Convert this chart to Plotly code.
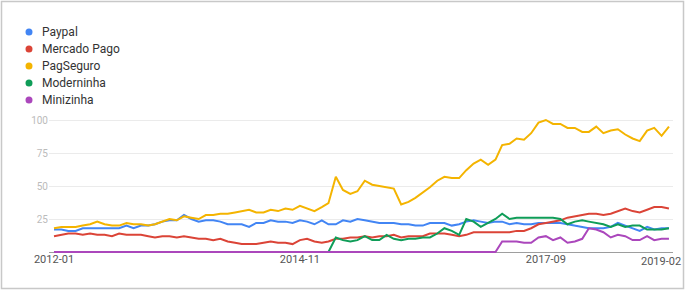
import pandas as pd
import plotly.graph_objects as go

months = pd.date_range("2012-01-01", "2019-02-01", freq="MS")

paypal = [17, 17, 16, 16, 18, 18, 18, 18, 18, 18, 20, 18, 20, 20, 21, 23, 24, 24, 28, 25,
          23, 24, 24, 23, 21, 21, 21, 19, 22, 22, 24, 23, 23, 22, 24, 23, 21, 24, 21, 21,
          24, 23, 25, 24, 23, 22, 22, 22, 21, 21, 20, 20, 22, 22, 22, 20, 21, 23, 24, 23,
          22, 23, 23, 21, 22, 21, 21, 22, 22, 22, 22, 21, 20, 19, 18, 18, 18, 19, 22, 20,
          18, 16, 19, 17, 18, 18]
mercado_pago = [12, 13, 14, 14, 13, 14, 13, 13, 12, 14, 13, 13, 13, 12, 11, 12, 12, 11, 12, 11,
                10, 10, 9, 10, 8, 7, 6, 6, 6, 7, 8, 7, 7, 6, 9, 10, 8, 7, 8, 10,
                10, 11, 11, 12, 11, 12, 12, 13, 11, 12, 12, 12, 14, 14, 14, 13, 12, 13, 15, 15,
                15, 15, 15, 15, 16, 16, 18, 21, 22, 23, 24, 26, 27, 28, 29, 29, 28, 29, 31, 33,
                31, 30, 32, 34, 34, 33]
pagseguro = [18, 19, 19, 19, 20, 21, 23, 21, 20, 20, 22, 21, 21, 20, 21, 23, 25, 24, 27, 26,
             25, 28, 28, 29, 29, 30, 31, 32, 30, 30, 32, 31, 33, 32, 35, 33, 31, 34, 37, 57,
             47, 44, 46, 54, 51, 50, 49, 48, 36, 38, 41, 45, 49, 54, 57, 56, 56, 62, 67, 70,
             66, 70, 81, 82, 86, 85, 90, 98, 100, 97, 97, 94, 94, 91, 91, 95, 90, 92, 93, 89,
             86, 84, 92, 94, 88, 95]
moderninha = [0] * 39 + [11, 9, 8, 9, 12, 9, 9, 13, 10, 9, 10, 10, 11, 11, 14, 18, 16, 13, 25,
              23, 19, 22, 25, 29, 25, 26, 26, 26, 26, 26, 26, 25, 21, 23, 24, 23, 22, 21, 19,
              21, 19, 20, 20, 17, 17, 17, 18]
minizinha = [0] * 62 + [8, 8, 8, 7, 7, 11, 12, 9, 11, 7, 8, 10, 18, 17, 15, 11, 13, 12, 9,
                        9, 12, 9, 10, 10]

names = ["Paypal", "Mercado Pago", "PagSeguro", "Moderninha", "Minizinha"]
series = [paypal, mercado_pago, pagseguro, moderninha, minizinha]
colors = ["#4285F4", "#DB4437", "#F4B400", "#0F9D58", "#AB47BC"]

tick_dates = ["2012-01-01", "2014-11-01", "2017-09-01"]
tick_text = ["2012-01", "2014-11", "2017-09"]
last_label = "2019-02"

W, H = 688, 291
L, R, T, B = 49, 15, 117, 36
PW, PH = W - L - R, H - T - B


def px2x(px):
    return (px - L) / PW


def py2y(py):
    return (H - B - py) / PH


fig = go.Figure()
for name, vals, col in zip(names, series, colors):
    fig.add_trace(go.Scatter(x=months, y=vals, mode="lines", name=name,
                             line=dict(color=col, width=2), showlegend=False,
                             hoverinfo="x+y+name"))

shapes = [dict(type="rect", xref="paper", yref="paper",
               x0=px2x(1.5), x1=px2x(683.5), y0=py2y(288.5), y1=py2y(1.5),
               line=dict(color="#c8c8c8", width=1.5), fillcolor="rgba(0,0,0,0)", layer="below")]
annotations = []
leg_y = [32, 49, 66, 83, 100]
for name, col, yy in zip(names, colors, leg_y):
    shapes.append(dict(type="circle", xref="paper", yref="paper",
                       x0=px2x(25.5), x1=px2x(32.5), y0=py2y(yy + 3.5), y1=py2y(yy - 3.5),
                       fillcolor=col, line=dict(width=0)))
    annotations.append(dict(text=name, xref="paper", yref="paper", x=px2x(40), y=py2y(yy),
                            xanchor="left", yanchor="middle", showarrow=False,
                            font=dict(family="Roboto, Arial, sans-serif", size=12, color="#333333")))
annotations.append(dict(text=last_label, xref="paper", yref="paper", x=px2x(661), y=py2y(261),
                        xanchor="center", yanchor="middle", showarrow=False,
                        font=dict(family="Roboto, Arial, sans-serif", size=11, color="#555555")))

fig.update_layout(
    width=W, height=H, margin=dict(l=L, r=R, t=T, b=B, pad=0),
    paper_bgcolor="white", plot_bgcolor="white",
    showlegend=False, shapes=shapes, annotations=annotations,
    xaxis=dict(range=["2011-12-11", "2019-02-18"], tickvals=tick_dates, ticktext=tick_text,
               showgrid=False, zeroline=False, showline=False, ticks="",
               tickfont=dict(family="Roboto, Arial, sans-serif", size=11, color="#555555"),
               ticklabelstandoff=-4),
    yaxis=dict(range=[-2.27, 102.27], tickvals=[25, 50, 75, 100], showgrid=True,
               gridcolor="#ebebeb", gridwidth=1, zeroline=True, zerolinecolor="#9e9e9e",
               zerolinewidth=1, showline=False, ticks="",
               tickfont=dict(family="Roboto, Arial, sans-serif", size=10, color="#bbbbbb")),
)

fig.write_html("out.html")
